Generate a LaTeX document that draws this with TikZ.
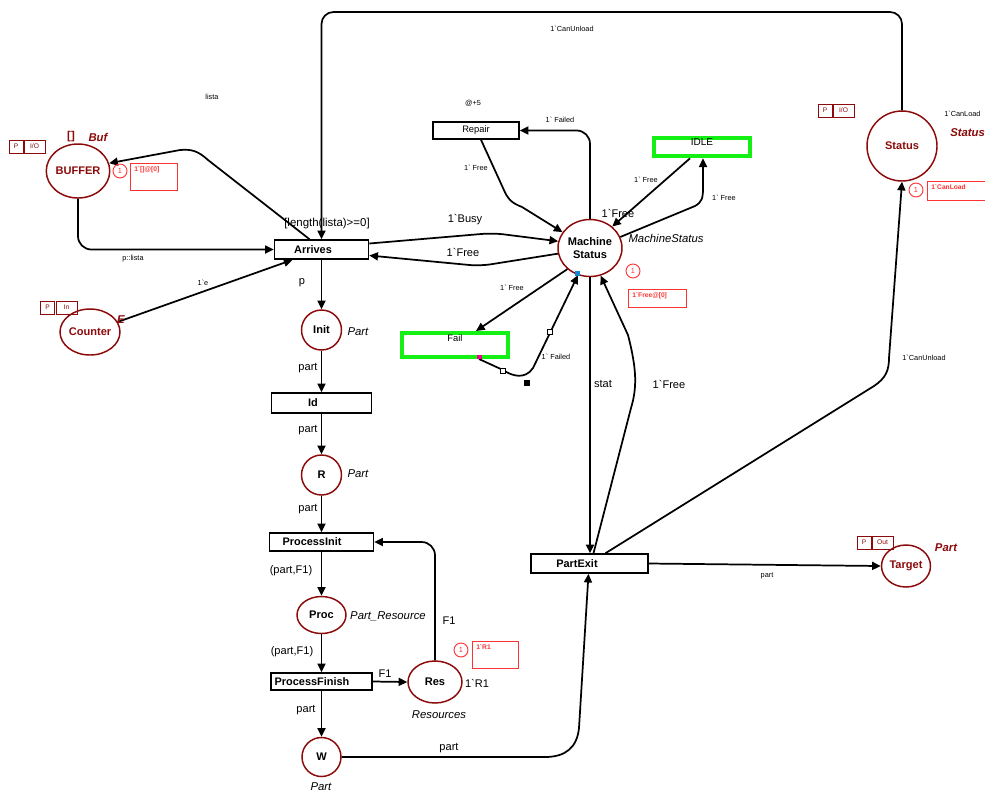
\documentclass[tikz,border=0pt]{standalone}
\usepackage{fontspec}
\setmainfont{Liberation Sans}[Ligatures=TeXOff]
\usetikzlibrary{arrows.meta,shapes.geometric,calc}
\definecolor{pl}{RGB}{140,10,10}
\definecolor{tok}{RGB}{255,50,50}
\definecolor{grn}{RGB}{20,240,20}
\tikzset{
 place/.style={ellipse, draw=pl, line width=1.1pt, text=pl, font=\bfseries\fontsize{8.3}{9.5}\selectfont, inner sep=0pt, align=center},
 trans/.style={rectangle, draw=black, line width=1.2pt, inner sep=0pt},
 ttext/.style={font=\bfseries\fontsize{8.2}{9}\selectfont, inner sep=0pt},
 gbox/.style={rectangle, draw=grn, line width=3pt, inner sep=0pt},
 arc/.style={draw, line width=1.3pt, -{Triangle[length=6.5pt,width=6pt]}},
 lbl/.style={font=\fontsize{8.3}{9}\selectfont, inner sep=0pt},
 sml/.style={font=\fontsize{5.5}{6}\selectfont, inner sep=0pt},
 typ/.style={font=\itshape\fontsize{8.5}{9}\selectfont, inner sep=0pt},
 rtyp/.style={font=\bfseries\itshape\fontsize{8.5}{9}\selectfont, text=pl, inner sep=0pt},
 port/.style={draw=pl, line width=0.6pt, text=pl, font=\fontsize{5}{6}\selectfont, inner sep=0pt, minimum height=9.75pt},
 tokc/.style={circle, draw=tok, line width=0.7pt, text=tok, font=\fontsize{5.5}{6}\selectfont, minimum size=10.5pt, inner sep=0pt},
 tokb/.style={draw=tok, line width=0.7pt},
 tokt/.style={text=tok, font=\bfseries\fontsize{5}{6}\selectfont, inner sep=0pt, anchor=north west},
}
\begin{document}
\begin{tikzpicture}[x=0.75pt,y=-0.75pt]
\fill[white] (0,0) rectangle (985,794);
\useasboundingbox (0,0) rectangle (985,794);

% ---------- places ----------
\node[place, minimum width=42pt, minimum height=40.5pt] (buffer) at (78,171) {BUFFER};
\node[place, minimum width=34.5pt, minimum height=34.5pt] (counter) at (90,332) {Counter};
\node[place, minimum width=30pt, minimum height=30pt, text=black] (init) at (321.5,330) {Init};
\node[place, minimum width=30pt, minimum height=30pt, text=black] (r) at (321.5,475) {R};
\node[place, minimum width=36.75pt, minimum height=27.75pt, text=black] (proc) at (321.5,615) {Proc};
\node[place, minimum width=40.5pt, minimum height=31.5pt, text=black] (res) at (435,682) {Res};
\node[place, minimum width=29.25pt, minimum height=29.25pt, text=black] (w) at (321.5,757) {W};
\node[place, minimum width=36.75pt, minimum height=31.5pt] (target) at (906,566) {Target};
\node[place, minimum width=52.5pt, minimum height=52.5pt] (status) at (902,146) {Status};
\node[place, minimum width=48pt, minimum height=42.75pt, text=black] (ms) at (590,248) {Machine\\Status};

% ---------- transitions ----------
\node[trans, minimum width=70.5pt, minimum height=14.25pt] (arrives) at (321.5,249.5) {};
\node[ttext] (arrivesT) at (313,249.5) {Arrives};
\node[trans, minimum width=75pt, minimum height=15pt] (id) at (321.5,403) {};
\node[ttext] (idT) at (313,403) {Id};
\node[trans, minimum width=78pt, minimum height=13.5pt] (processinit) at (321.5,542) {};
\node[ttext] (processinitT) at (312,542) {ProcessInit};
\node[trans, minimum width=75.75pt, minimum height=12.75pt] (processfinish) at (321.5,681.5) {};
\node[ttext] (processfinishT) at (312,681.5) {ProcessFinish};
\node[trans, minimum width=87.75pt, minimum height=14.25pt] (partexit) at (589.5,563.5) {};
\node[ttext] (partexitT) at (577,563.5) {PartExit};
\node[trans, minimum width=64.5pt, minimum height=12.75pt, font=\fontsize{7}{8}\selectfont] (repair) at (476,130.5) {Repair};
\node[gbox, minimum width=72pt, minimum height=14pt] (idle) at (702,147) {};
\node[lbl, font=\fontsize{7.5}{8}\selectfont] (idleT) at (702,142) {IDLE};
\node[gbox, minimum width=80pt, minimum height=18pt] (fail) at (455,345) {};
\node[lbl, font=\fontsize{7}{8}\selectfont] (failT) at (455,338) {Fail};

% ---------- arcs ----------
\coordinate (topL) at (321.5,12);
\draw[arc, rounded corners=9pt] (status.north) |- (topL) -- (arrives.north);
\node[sml] (l01) at (572,29) {1`CanUnload};

\draw[arc, rounded corners=10pt] (buffer.south) |- (arrives.west);
\node[sml] (l02) at (133,259) {p::lista};

\draw[arc] ($(arrives.north)+(-12,0)$) -- (208,160) .. controls (198,151) and (192,149) .. (180,150) -- (buffer.14);
\node[sml] (l03) at (212,97) {lista};

\draw[arc] (counter.20) -- ($(arrives.south)+(-29,0)$);
\node[sml] (l04) at (203,283) {1`e};

\draw[arc] (arrives.south) -- (init.north);
\node[lbl] (l05) at (302,283) {p};
\draw[arc] (init.south) -- (id.north);
\node[lbl] (l06) at (308,368) {part};
\draw[arc] (id.south) -- (r.north);
\node[lbl] (l07) at (308,430) {part};
\draw[arc] (r.south) -- (processinit.north);
\node[lbl] (l08) at (308,509) {part};
\draw[arc] (processinit.south) -- (proc.north);
\node[lbl] (l09) at (291,571) {(part,F1)};
\draw[arc] (proc.south) -- (processfinish.north);
\node[lbl] (l10) at (292,652) {(part,F1)};
\draw[arc] (processfinish.south) -- (w.north);
\node[lbl] (l11) at (306,710) {part};
\draw[arc] (processfinish.east) -- (res.west);
\node[lbl] (l12) at (385,674) {F1};
\draw[arc, rounded corners=10pt] (res.north) |- (processinit.east);
\node[lbl] (l13) at (449,621) {F1};
\draw[arc] (w.east) -- (545,757) .. controls (565,757) and (577,748) .. (579,728) -- ($(partexit.south)+(-1,0)$);
\node[lbl] (l14) at (449,748) {part};
\draw[arc] (partexit.east) -- (target.west);
\node[sml] (l15) at (767,576) {part};

\draw[arc, rounded corners=8pt] ($(arrives.east)+(0,-6)$) -- (493,233) -- (ms.168);
\node[lbl] (l16) at (465,220) {1`Busy};
\draw[arc, rounded corners=8pt] (ms.190) -- (480,266) -- ($(arrives.east)+(0,6)$);
\node[lbl] (l17) at (463,252) {1`Free};

\draw[arc] ($(repair.south)+(5,0)$) -- (503,188) .. controls (508,200) and (512,203) .. (522,207) -- (ms.150);
\node[sml] (l18) at (476,168) {1` Free};
\draw[arc, rounded corners=10pt] (ms.north) |- (repair.east);
\node[sml] (l19) at (560,120) {1` Failed};
\node[sml] (l20) at (473,103) {@+5};

\draw[arc] ($(idle.south)+(-12,0)$) -- (ms.44);
\node[sml] (l21) at (646,180) {1` Free};
\node[lbl] (l22) at (618,213) {1`Free};
\draw[arc] (ms.20) -- (695,206) .. controls (702,202) and (703,198) .. (703,188) -- ($(idle.south)+(1,0)$);
\node[sml] (l23) at (724,198) {1` Free};

\draw[arc] (ms.223) -- ($(fail.north)+(21,0)$);
\node[sml] (l24) at (512,288) {1` Free};
\draw[arc] ($(fail.south)+(24,0)$) -- (503,370) .. controls (512,376) and (525,380) .. (533,368) -- (ms.246);
\node[sml] (l25) at (556,357) {1` Failed};

\draw[arc] (ms.south) -- (ms.south |- partexit.north);
\node[lbl] (l26) at (603,384) {stat};
\draw[arc] ($(partexit.north)+(4,0)$) -- (631,408) .. controls (637,388) and (637,370) .. (628,335) -- (ms.291);
\node[lbl] (l27) at (669,384) {1`Free};

\draw[arc] ($(partexit.north)+(16,0)$) -- (874,386) .. controls (886,378) and (889,370) .. (889,358) -- (status.south);
\node[sml] (l28) at (924,358) {1`CanUnload};

% ---------- editor handles ----------
\draw[fill=white, line width=0.4pt] (500,368) rectangle (505,373);
\draw[fill=white, line width=0.4pt] (547,329) rectangle (552,334);
\fill[black] (524,380) rectangle (530,386);
\fill[magenta] (477,355) rectangle (482,359);
\fill[cyan!70!blue] (575,271) rectangle (580,276);

% ---------- inscriptions ----------
\node[port, minimum width=10.5pt] (bP) at (16,146.5) {P};
\node[port, minimum width=15.75pt] (bIO) at (34.5,146.5) {I/O};
\node[rtyp, font=\bfseries\fontsize{8.5}{9}\selectfont] (bInit) at (71,137) {[]};
\node[rtyp] (bType) at (98,137) {Buf};
\node[tokc] (bTok) at (120,171) {1};
\draw[tokb] (130,163) rectangle (177,190);
\node[tokt] (bTokT) at (134,166) {1`[]@[0]};

\node[port, minimum width=10pt] (cP) at (47.5,307.5) {P};
\node[port, minimum width=15.75pt] (cIn) at (66.5,307.5) {In};
\node[rtyp] (cType) at (121,320) {E};

\node[typ] (iType) at (358,332) {Part};
\node[typ] (rType) at (358,474) {Part};
\node[typ] (pType) at (388,616) {Part\_Resource};
\node[typ] (resType) at (439,715) {Resources};
\node[lbl] (resInit) at (477,683) {1`R1};
\node[tokc] (resTok) at (461,650) {1};
\draw[tokb] (472,641) rectangle (518,668);
\node[tokt] (resTokT) at (476,644) {1`R1};
\node[typ] (wType) at (321,787) {Part};

\node[typ] (msType) at (666,238) {MachineStatus};
\node[tokc] (msTok) at (633,271) {1};
\draw[tokb] (628,289) rectangle (686,307);
\node[tokt] (msTokT) at (632,292) {1`Free@[0]};

\node[port, minimum width=10.5pt] (sP) at (825,110.5) {P};
\node[port, minimum width=15.75pt] (sIO) at (843.5,110.5) {I/O};
\node[sml, anchor=west] (sInit) at (944,114) {1`CanLoad};
\node[rtyp, anchor=west] (sType) at (950,133) {Status};
\node[tokc] (sTok) at (916,190) {1};
\draw[tokb] (927,181) rectangle (990,200);
\node[tokt] (sTokT) at (931,184) {1`CanLoad};

\node[port, minimum width=10.5pt] (tP) at (864,542.5) {P};
\node[port, minimum width=15.75pt] (tOut) at (882.5,542.5) {Out};
\node[rtyp] (tType) at (946,548) {Part};

\node[lbl, font=\fontsize{8.6}{9}\selectfont] (guard) at (327,224) {[length(lista)>=0]};
\end{tikzpicture}
\end{document}
